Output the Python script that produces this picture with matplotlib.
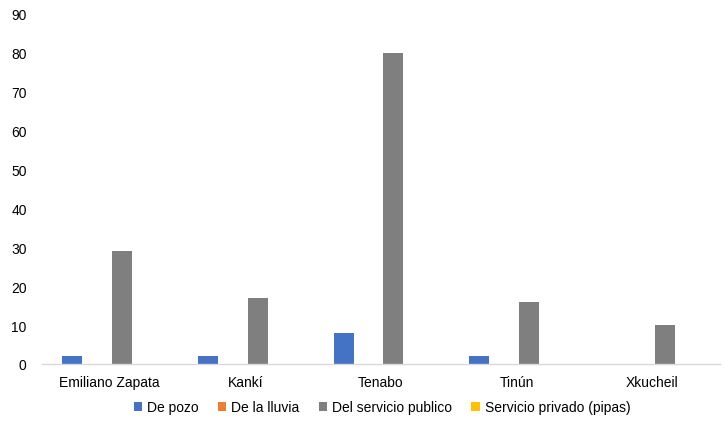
import matplotlib
matplotlib.use("Agg")
import matplotlib.pyplot as plt
import numpy as np

categories = ["Emiliano Zapata", "Kankí", "Tenabo", "Tinún", "Xkucheil"]
series_names = ["De pozo", "De la lluvia", "Del servicio publico", "Servicio privado (pipas)"]
de_pozo = [2, 2, 8, 2, 0]
de_la_lluvia = [0, 0, 0, 0, 0]
servicio_publico = [29, 17, 80, 16, 10]
servicio_privado = [0, 0, 0, 0, 0]
colors = ["#4472C4", "#ED7D31", "#7F7F7F", "#FFC000"]
yticks = list(range(0, 100, 10))

plt.rcParams['font.family'] = ['Liberation Sans', 'DejaVu Sans']

fig = plt.figure(figsize=(7.25, 4.27), dpi=100)
ax = fig.add_axes([42/725, 62/427, 678/725, 350/427])

x = np.arange(len(categories))
slot = 25/136
width = 20/136
all_series = [de_pozo, de_la_lluvia, servicio_publico, servicio_privado]
for i, (vals, name, c) in enumerate(zip(all_series, series_names, colors)):
    ax.bar(x + (i - 1.5) * slot, vals, width=width, color=c, label=name)

ax.set_xlim(-0.5, len(categories) - 0.5)
ax.set_ylim(0, 90)
ax.set_yticks(yticks)
ax.set_xticks(x)
ax.set_xticklabels(categories)
ax.tick_params(axis='both', length=0, labelsize=10, colors='#000000')
ax.tick_params(axis='y', pad=11)
ax.tick_params(axis='x', pad=8)
for s in ['top', 'right', 'left']:
    ax.spines[s].set_visible(False)
ax.spines['bottom'].set_color('#D9D9D9')
ax.spines['bottom'].set_linewidth(1)

leg = fig.legend(loc='center', bbox_to_anchor=(382/725, 19/427), ncol=4, frameon=False,
                 fontsize=10, handlelength=0.6, handleheight=0.6, handletextpad=0.35,
                 columnspacing=1.4)

fig.savefig("out.png", dpi=100)
